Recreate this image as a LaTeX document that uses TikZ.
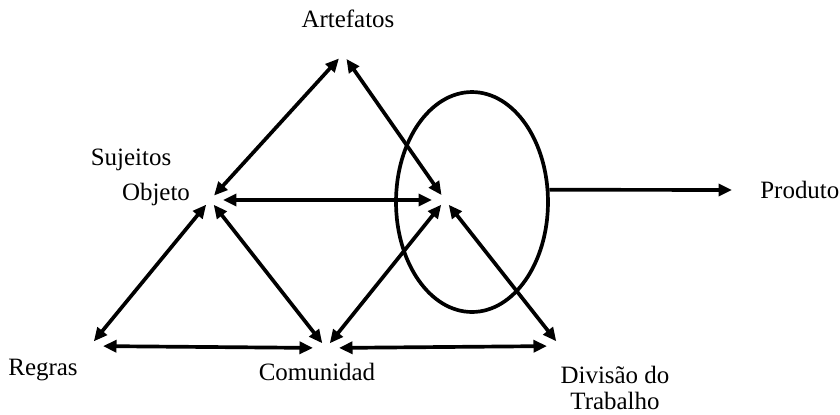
\documentclass[tikz,border=0pt]{standalone}
\usepackage{fontspec}
\setmainfont{Liberation Serif}
\usetikzlibrary{arrows.meta,positioning,shapes.geometric}
\tikzset{
  %% Labels
  atLabel/.style={inner sep=0pt, font=\fontsize{14.2}{15}\selectfont, align=center},
  %% Connectors
  atlink/.style={{Triangle[length=0.27cm,width=0.24cm]}-{Triangle[length=0.27cm,width=0.24cm]},
    line width=2.1pt, shorten <=0.12cm, shorten >=0.12cm},
  atlinkH/.style={atlink, shorten <=0.26cm, shorten >=0.26cm},
  atout/.style={-{Triangle[length=0.27cm,width=0.24cm]}, line width=2.1pt},
  %% Ellipse
  atRing/.style={draw, ellipse, line width=2.1pt, inner sep=0pt,
    minimum width=3.04cm, minimum height=4.4cm},
}
\begin{document}
\begin{tikzpicture}[x=0.02cm, y=-0.02cm]
\useasboundingbox (0,0) rectangle (840,414);

%% Corner points
\coordinate (pArt) at (343,54);
\coordinate (pObj) at (210,200);
\coordinate (pMid) at (445,200);
\coordinate (pReg) at (90,346);
\coordinate (pCom) at (326,348);
\coordinate (pDiv) at (560,346);

%% Labels
\node[atLabel, anchor=base] (lArt) at (348,27)  {Artefatos};
\node[atLabel, anchor=base] (lSuj) at (131,165) {Sujeitos};
\node[atLabel, anchor=base] (lObj) at (156,200) {Objeto};
\node[atLabel, anchor=base] (lReg) at (43,375)  {Regras};
\node[atLabel, anchor=base] (lCom) at (317,380) {Comunidad};
\node[atLabel]              (lDiv) at (615,388) {Divisão do\\Trabalho};
\node[atLabel, anchor=west] (lProd) at (760,190) {Produto};

%% Ellipse
\node[atRing] (ring) at (472,202) {};

%% Upper triangle
\draw[atlink]  (pArt) -- (pObj);
\draw[atlink]  (pArt) -- (pMid);
\draw[atlinkH] (pObj) -- (pMid);

%% Lower triangles
\draw[atlink]  (pObj) -- (pReg);
\draw[atlink]  (pObj) -- (pCom);
\draw[atlink]  (pMid) -- (pCom);
\draw[atlink]  (pMid) -- (pDiv);
\draw[atlinkH] (pReg) -- (pCom);
\draw[atlinkH] (pCom) -- (pDiv);

%% Output
\draw[atout, shorten >=0.56cm] (ring.9) -- (lProd.west);

\end{tikzpicture}
\end{document}
